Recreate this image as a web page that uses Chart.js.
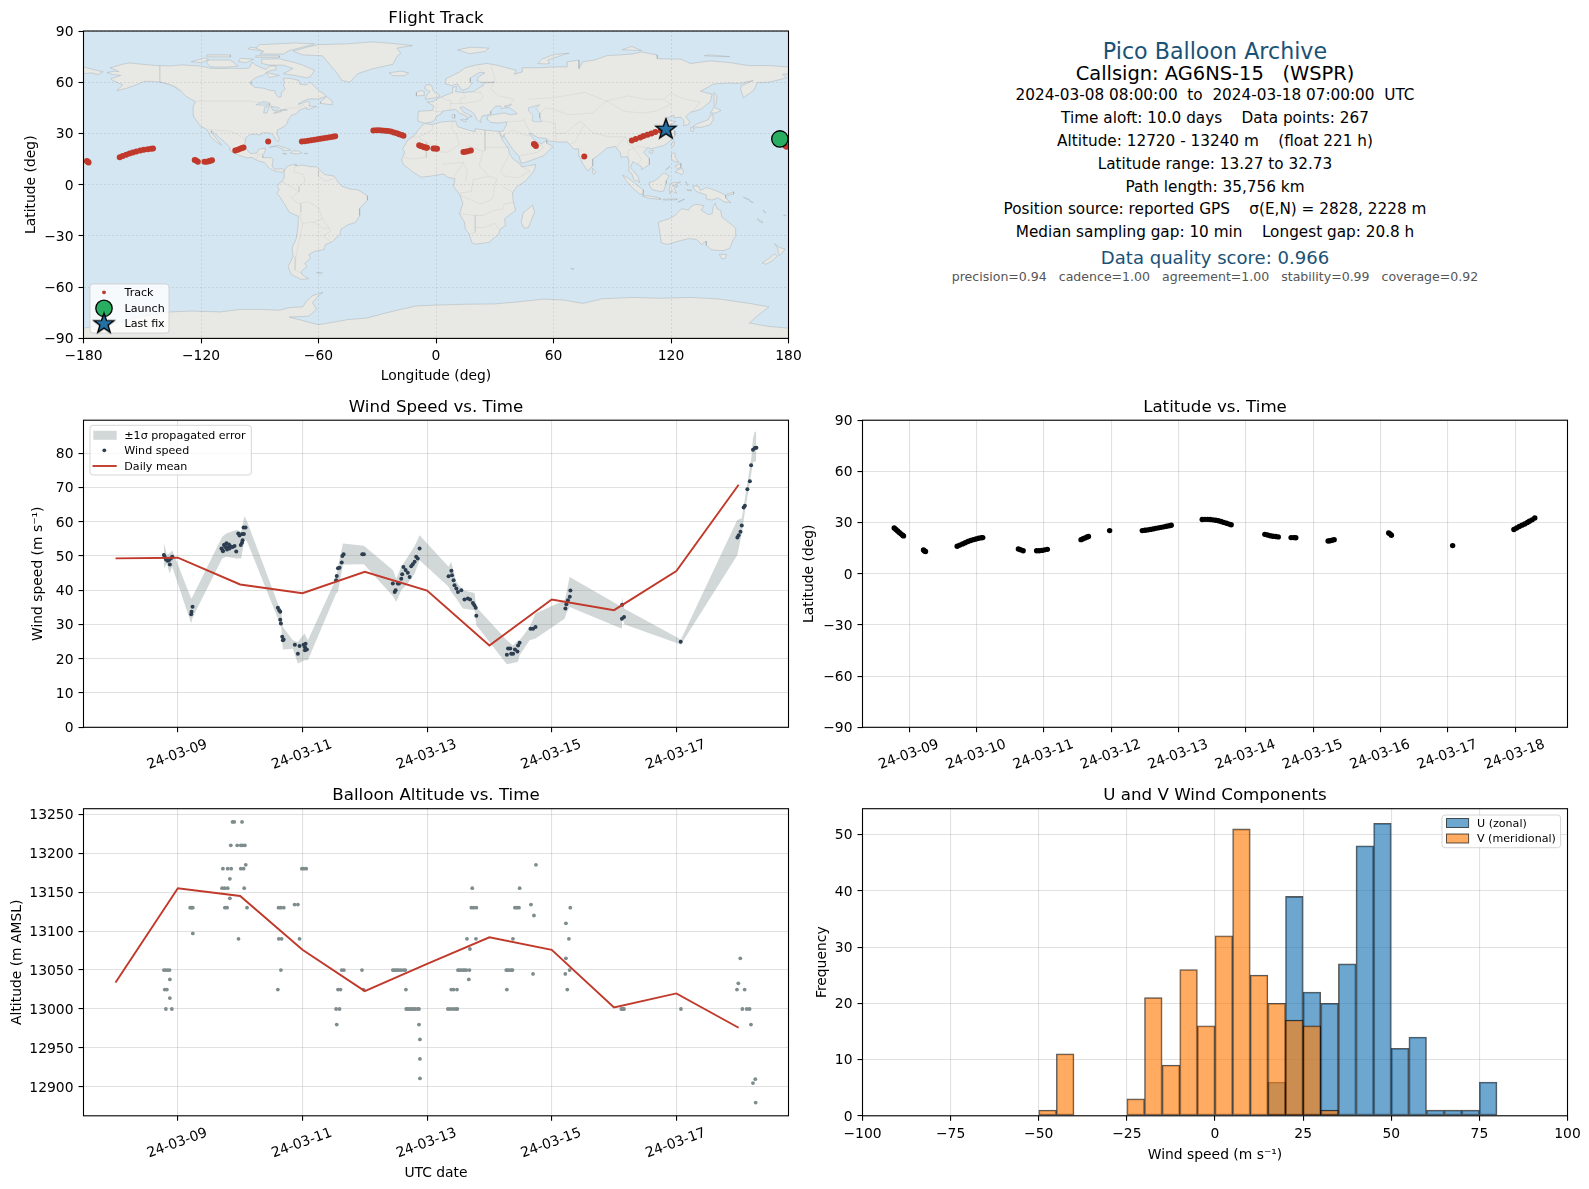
<!DOCTYPE html>
<html><head><meta charset="utf-8">
<script src="https://cdn.jsdelivr.net/npm/chart.js@4"></script>
<style>
html,body{margin:0;padding:0;background:#fff;width:1589px;height:1189px;overflow:hidden;font-family:"DejaVu Sans",sans-serif;}
canvas{position:absolute;}
.t{position:absolute;left:1215px;transform:translate(-50%,-50%);white-space:pre;color:#000;line-height:1.2;}
</style></head><body>
<div id="panel"></div>
<canvas id="cMap" width="810" height="410" style="left:0;top:0"></canvas>
<canvas id="cWind" width="810" height="410" style="left:0;top:389px"></canvas>
<canvas id="cLat" width="810" height="410" style="left:779px;top:389px"></canvas>
<canvas id="cAlt" width="810" height="410" style="left:0;top:777px"></canvas>
<canvas id="cHist" width="810" height="410" style="left:779px;top:777px"></canvas>
<script>
// ---------- DATA ----------
const trackTimes=[8.775,8.80,8.825,8.85,8.875,8.90,8.913,9.21,9.225,9.24,9.71,9.75,9.79,9.83,9.87,9.91,9.95,9.99,10.03,10.07,10.09,10.62,10.65,10.69,10.89,10.93,10.97,11.01,11.05,11.55,11.58,11.61,11.64,11.66,11.975,12.46,12.50,12.54,12.58,12.62,12.66,12.70,12.74,12.78,12.82,12.86,12.89,13.35,13.39,13.43,13.47,13.51,13.55,13.59,13.63,13.67,13.71,13.75,13.78,14.28,14.32,14.36,14.40,14.44,14.48,14.67,14.71,14.74,15.22,15.25,15.28,15.31,16.12,16.14,16.16,17.07,17.98,18.02,18.06,18.10,18.14,18.18,18.21,18.25,18.29];
const trackLats=[26.8,26,25.1,24.2,23.4,22.6,22.2,13.9,13.4,13.0,16.1,16.8,17.5,18.2,18.9,19.5,20,20.4,20.8,21.1,21.2,14.5,14.1,13.5,13.5,13.5,13.7,14,14.3,20,20.5,21,21.5,21.8,25.3,25.3,25.5,25.7,26,26.3,26.6,26.9,27.2,27.5,27.8,28.1,28.4,31.8,31.9,31.9,31.8,31.6,31.4,31.1,30.6,30.1,29.6,29.1,28.7,23.1,22.7,22.3,22,21.8,21.6,21.2,21.2,21.1,19.2,19.3,19.6,20,23.9,23.4,22.6,16.5,25.9,26.8,27.7,28.5,29.2,30,30.8,31.6,32.7];
const trackLons=[175.6,176.2,176.9,177.5,178,178.6,179,-178.3,-177.8,-177.4,-161.5,-160,-158.2,-156.5,-154.8,-153,-151,-149.2,-147.2,-145.5,-144.5,-123.2,-122.5,-121.6,-118.2,-117,-116,-115.2,-114.4,-102.5,-101.2,-100,-99,-98.3,-85.7,-68.5,-67,-65.3,-63.7,-62,-60.5,-59,-57.5,-55.8,-54.2,-52.7,-51.5,-32,-30.5,-29,-27.5,-26,-24.5,-23,-21.5,-20,-18.8,-17.5,-16.6,-8.6,-7.8,-6.9,-6,-5.2,-4.6,-1.3,-0.3,0.5,14,15,16.2,17.8,50,50.5,51,75.7,100,102,104.3,106,108,110,112,114.8,117.4];
const launchLon=175.6, launchLat=26.8, lastLon=117.4, lastLat=32.73;

const windTimes=[8.776,8.79,8.81,8.835,8.856,8.872,8.888,8.91,9.214,9.22,9.236,9.70,9.72,9.74,9.76,9.78,9.80,9.82,9.85,9.88,9.91,9.725,9.755,9.79,9.83,9.937,9.969,9.99,10.03,10.06,10.01,10.03,10.04,10.055,10.087,10.605,10.627,10.643,10.643,10.654,10.675,10.686,10.697,10.878,10.953,10.926,11.017,11.04,11.05,11.04,11.07,11.54,11.55,11.57,11.595,11.63,11.64,11.66,11.96,11.985,12.45,12.48,12.495,12.53,12.55,12.585,12.6,12.62,12.655,12.69,12.72,12.745,12.77,12.8,12.825,12.85,12.88,13.345,13.39,13.40,13.425,13.44,13.47,13.495,13.55,13.60,13.655,13.69,13.735,13.76,13.78,13.79,14.28,14.30,14.335,14.35,14.38,14.41,14.45,14.46,14.485,14.66,14.70,14.74,15.22,15.235,15.26,15.29,15.30,16.127,16.16,16.13,17.07,17.98,18.0,18.03,18.05,18.08,18.10,18.14,18.18,18.20,18.23,18.26,18.285];
const windSpeeds=[50.3,49.7,49,48.6,48.8,47.5,49.3,49.8,33,33.7,35.2,52.2,51.6,53.2,52.6,53.7,52.4,53.4,52.8,52.6,52.9,51.4,53.3,51.9,52.2,51.3,56.6,56,56.4,56.4,53.2,53.9,54.6,58.3,58.3,34.9,34.2,33.7,31.4,30.3,26.4,25.4,25.6,24.1,23.7,21.5,24.1,23.4,24.4,22.5,22.7,42.9,44.2,46.4,46.6,48.1,50,50.5,50.5,50.5,42,39.5,40,42,42,43.4,44.7,46.8,45.9,45.1,43.9,47,47.6,48.3,49.8,49.3,52.2,44.1,45.7,44.4,42.9,41.5,40.5,39.5,40,37.3,37.6,37.3,36.3,35.6,34.9,32.6,21.2,23,23,21.5,21.5,22.7,22.1,23.9,24.7,28.8,28.8,29.3,34.7,35.9,37.1,38.1,39.9,31.7,32.2,35.8,25,55.4,56.1,57.1,58.9,64.2,64.7,69.5,71.8,76.5,81,81.5,81.6];

const bandTimes=[8.776,8.824,8.867,8.91,9.214,9.236,9.712,9.776,9.937,10.017,10.07,10.113,10.616,10.659,10.686,10.846,10.926,11.033,11.087,11.54,11.569,11.65,11.986,12.45,12.505,12.585,12.69,12.80,12.88,13.345,13.388,13.468,13.575,13.762,13.79,14.28,14.378,14.458,14.485,14.645,14.74,15.207,15.234,15.287,16.127,16.133,16.16,17.074,17.978,18.05,18.096,18.203,18.23,18.257,18.284];
const bandUpper=[53.96,50.3,50.75,51.7,37.6,38.1,55.6,56.6,57.6,57.1,61.7,60,35.6,34.2,29.3,25.4,24.9,27.35,25.4,43.4,46.85,53.67,53,45.9,43.4,46.85,49.8,52.9,56.1,46.85,48.3,42.5,40,39.2,35.15,25.4,23.9,25.4,25.4,29.3,33.2,37.1,39,43.9,35.15,38.1,34.7,25.6,60.5,61,66.3,78.5,84.4,86.3,86.3];
const bandLower=[46.36,47.8,44.9,46.85,30.3,32,49.3,49.8,49.3,49.3,55.1,54.2,31.25,29.3,22.7,22.96,18.6,19.55,19.55,39.05,39.5,47.5,47.6,38.3,36.6,40,42,44.9,48.8,41,39.5,37.6,34.7,34.2,29.8,18.4,18.8,19.1,21,25.4,25.9,31.7,33.2,35.15,28.8,33.7,30.1,24.2,50.2,56.6,62.4,74.2,77.3,77.6,77.6];

const dailyTimes=[8,9,10,11,12,13,14,15,16,17,18];
const dailyWind=[49.3,49.5,41.7,39.15,45.4,39.9,23.9,37.3,34.2,45.6,70.8];
const dailyAlt=[13034,13155,13145,13076,13023,13058,13092,13076,13002,13020,12976];

const altTimes=[8.776,8.80,8.835,8.867,8.872,8.79,8.824,8.872,8.808,8.904,9.198,9.22,9.24,9.24,9.723,9.80,9.856,9.835,9.71,9.75,9.80,9.835,9.755,9.79,9.878,9.905,10.03,9.85,9.953,10.01,10.04,10.076,10.01,10.055,10.09,10.065,10.11,9.974,10.616,10.654,10.70,10.62,10.665,10.654,10.605,10.873,10.926,10.953,10.99,11.02,11.06,11.63,11.665,11.57,11.61,11.54,11.595,11.55,11.955,11.98,12.45,12.47,12.50,12.52,12.55,12.58,12.62,12.65,12.66,12.665,12.69,12.72,12.75,12.78,12.81,12.85,12.87,12.87,12.885,12.885,12.885,13.334,13.372,13.415,13.457,13.485,13.388,13.425,13.48,13.495,13.52,13.55,13.58,13.6,13.63,13.68,13.67,13.687,13.64,13.784,13.725,13.71,13.746,13.79,14.28,14.27,14.29,14.32,14.35,14.37,14.378,14.41,14.44,14.474,14.485,14.667,14.715,14.747,14.70,15.218,15.228,15.228,15.25,15.276,15.287,15.298,16.117,16.143,16.16,17.074,17.973,17.995,18.027,18.06,18.096,18.13,18.176,18.198,18.23,18.267,18.273];
const altValues=[13050,13050,13050,13050,13038,13025,13025,13014,13000,13000,13130,13130,13130,13097,13180,13180,13180,13167,13155,13155,13155,13142,13130,13130,13240,13240,13240,13210,13210,13210,13210,13210,13180,13180,13185,13155,13130,13090,13130,13130,13130,13090,13090,13050,13025,13134,13134,13090,13180,13180,13180,13050,13050,13025,13025,13000,13000,12980,13050,13025,13050,13050,13050,13050,13050,13050,13050,13050,13025,13000,13000,13000,13000,13000,13000,13000,13000,12980,12961,12936,12911,13000,13000,13000,13000,13000,13025,13025,13025,13050,13050,13050,13050,13050,13050,13050,13038,13077,13090,13090,13155,13130,13130,13130,13025,13050,13050,13050,13050,13050,13090,13130,13130,13130,13155,13134,13120,13185,13045,13045,13110,13065,13025,13090,13050,13130,13000,13000,13000,13000,13025,13033,13065,13000,13025,13000,13000,12980,12905,12910,12880];

const histCenters=[-97.5,-92.5,-87.5,-82.5,-77.5,-72.5,-67.5,-62.5,-57.5,-52.5,-47.5,-42.5,-37.5,-32.5,-27.5,-22.5,-17.5,-12.5,-7.5,-2.5,2.5,7.5,12.5,17.5,22.5,27.5,32.5,37.5,42.5,47.5,52.5,57.5,62.5,67.5,72.5,77.5,82.5,87.5,92.5,97.5];
const histU=[0,0,0,0,0,0,0,0,0,0,0,0,0,0,0,0,0,0,0,0,0,0,0,6,39,22,20,27,48,52,12,14,1,1,1,6,0,0,0,0];
const histV=[0,0,0,0,0,0,0,0,0,0,1,11,0,0,0,3,21,9,26,16,32,51,25,20,17,16,1,0,0,0,0,0,0,0,0,0,0,0,0,0];

const lonTicks=[-180,-120,-60,0,60,120,180];
const latTicks=[-90,-60,-30,0,30,60,90];
const windTicks=[0,10,20,30,40,50,60,70,80];
const altTicks=[12900,12950,13000,13050,13100,13150,13200,13250];
const histXTicks=[-100,-75,-50,-25,0,25,50,75,100];
const histYTicks=[0,10,20,30,40,50];
const everyOtherDay=[9,11,13,15,17];
const everyDay=[9,10,11,12,13,14,15,16,17,18];
const dayLabels={9:'24-03-09',10:'24-03-10',11:'24-03-11',12:'24-03-12',13:'24-03-13',14:'24-03-14',15:'24-03-15',16:'24-03-16',17:'24-03-17',18:'24-03-18'};

const panelLines=[
 ['Pico Balloon Archive',50.7,22.2,'#1a5276'],
 ['Callsign: AG6NS-15   (WSPR)',74,19.44,'#000'],
 ['2024-03-08 08:00:00  to  2024-03-18 07:00:00  UTC',95,15.28,'#000'],
 ['Time aloft: 10.0 days    Data points: 267',117.6,15.28,'#000'],
 ['Altitude: 12720 - 13240 m    (float 221 h)',140.6,15.28,'#000'],
 ['Latitude range: 13.27 to 32.73',163.6,15.28,'#000'],
 ['Path length: 35,756 km',186.5,15.28,'#000'],
 ['Position source: reported GPS    σ(E,N) = 2828, 2228 m',209.3,15.28,'#000'],
 ['Median sampling gap: 10 min    Longest gap: 20.8 h',232,15.28,'#000'],
 ['Data quality score: 0.966',257.8,18.06,'#1a5276'],
 ['precision=0.94   cadence=1.00   agreement=1.00   stability=0.99   coverage=0.92',277,12.55,'#555'],
];

// coastlines [lon,lat]
const landShapes=[
[[-168,65.7],[-164,66.5],[-162,66.2],[-163.5,67.2],[-166.5,68.4],[-163,69.5],[-160,70.6],[-156.5,71.3],[-150,70.5],[-145,70],[-140,69.7],[-135,69.5],[-130,70.2],[-125,69.8],[-120,69.4],[-115,68.2],[-110,68],[-105,68.2],[-100,68],[-96,68.2],[-95,69],[-94,71.8],[-92,70],[-90,69],[-87,67.5],[-85,69.5],[-82,69.5],[-81.5,67.5],[-86,66.3],[-88,64.2],[-92,62.8],[-94.5,60.5],[-94.5,58.8],[-92.5,57],[-88,56.5],[-85,55.3],[-82.3,55.1],[-82,53],[-80.5,51.3],[-79,51.5],[-79,54],[-77,56],[-78,58.5],[-77.5,60],[-78,62.4],[-74,62.2],[-70,61],[-69.5,58.8],[-66,58.5],[-64.5,60.3],[-62,57.5],[-60,55.3],[-57,53],[-56,51.8],[-60,50.2],[-65,50.2],[-68,49],[-70.5,47],[-65,49],[-64.5,47.5],[-65,46],[-61,45.8],[-64,44.5],[-66,44],[-66,45.2],[-70,43.6],[-70.7,42],[-74,40.5],[-75.5,38],[-76,36],[-77.5,34],[-81,32],[-81.3,30],[-80,26.8],[-80.4,25.2],[-81.7,26],[-82.8,28.5],[-84,30],[-86,30.4],[-89,30.3],[-89.5,29.2],[-92,29.6],[-94.5,29.5],[-97,27.8],[-97.5,25],[-97.8,22.5],[-96,19.5],[-94.5,18.2],[-91.5,18.6],[-90.5,20.8],[-87,21.5],[-87.5,19],[-88.5,17],[-88.5,15.9],[-84,15.8],[-83.2,15],[-83.7,11],[-82.5,9.2],[-80,9.2],[-79,9.5],[-77.4,8.7],[-77.9,7.3],[-80,7.5],[-81.5,7.8],[-83,8.3],[-85.5,10],[-87.5,13],[-91,14],[-94,16],[-96.5,15.7],[-100,17],[-104,19],[-105.5,20.5],[-105.3,22],[-108,25],[-110,27],[-112.5,29.5],[-114.7,31.6],[-114.7,30.5],[-112.5,27.5],[-110,24],[-109.5,23],[-112,25],[-115,28],[-116,30.5],[-117.2,32.5],[-120.5,34.5],[-122,37],[-124,40.2],[-124,46],[-122.8,48.5],[-125,50],[-128,52],[-130,54.5],[-133,57],[-136,58.5],[-140,60],[-145,60.5],[-149,60.5],[-152,59],[-154,58],[-158,56.5],[-163,55],[-160,58.5],[-162,59.5],[-165,61],[-166,62],[-161,64],[-165,64.5]],
[[-80,73.7],[-72,71.5],[-68,70],[-62,67],[-64,63.5],[-66,62.5],[-72,64],[-78,65],[-73,68],[-78,70],[-85,70],[-89,71],[-89,73.5]],
[[-117,73],[-105,73],[-101,69.5],[-107,68.8],[-115,69],[-117,71]],
[[-125,72],[-118,74.3],[-116,73.2],[-120,71.5]],
[[-90,76.5],[-78,76.5],[-75,78.5],[-65,81.5],[-62,82.5],[-72,83],[-90,82],[-92,80],[-88,78]],
[[-92,75.5],[-80,75.5],[-80,74.6],[-92,74.6]],
[[-117,76],[-105,76],[-105,74.8],[-117,74.9]],
[[-100,74],[-93,73.5],[-97,71.5],[-101,72]],
[[-87,65.8],[-80,64],[-85,62.8]],
[[-59,47.7],[-53,46.7],[-53,49],[-56,51.5],[-59,48.5]],
[[-95,80.5],[-87,79.5],[-88,78.2],[-96,79.5]],
[[-73,78.2],[-68,76],[-58,75.5],[-54,70],[-51,66],[-48,61],[-44,60],[-40,65],[-32,68],[-22,70.5],[-20,75],[-18,77],[-20,80],[-12,81.5],[-25,83],[-33,83.6],[-45,82.5],[-60,82],[-66,80.5]],
[[-24,65.5],[-18,66.5],[-14,65.5],[-16,63.8],[-22,63.8]],
[[-77.5,8.5],[-75.5,11],[-72,12],[-71.5,11],[-68,11.5],[-64,10.5],[-61,10.5],[-57,6],[-52,5],[-50,1.5],[-48,-1],[-44,-2.5],[-40,-3],[-37,-5],[-35,-6.5],[-35,-9],[-39,-14],[-39,-18],[-41,-22],[-45,-23.5],[-48.5,-26],[-49,-29],[-53,-33.5],[-56.5,-35],[-57,-38],[-62,-39],[-65,-41],[-64,-43],[-67,-46],[-66,-48],[-69,-51],[-68,-53],[-65,-55],[-69,-55.5],[-74,-52.5],[-75.5,-48],[-73,-42],[-73.5,-37],[-71.5,-32],[-70.5,-25],[-70.3,-18.5],[-75,-16],[-77,-12],[-79.5,-7.5],[-81.3,-5],[-80,-3],[-81,-1],[-80,1],[-78.5,2],[-77.5,4],[-77.5,7]],
[[-6,35.8],[-2,35.2],[3,36.8],[10,37.3],[11,34],[15,32.5],[20,31],[20,32.8],[25,32],[32,31.2],[32.5,29.8],[34,26],[37,21],[37.5,18],[39.5,15],[43,12],[44,10.5],[51,11.8],[50,8],[46,2.5],[41,-1.5],[39,-5],[39.5,-10],[40.7,-15],[35,-20],[35.5,-24],[32.8,-26],[32,-29],[27,-33.8],[20,-34.8],[18.3,-34],[17,-29],[15,-26],[14.5,-22],[12,-17],[13.7,-11],[12.3,-6],[9,-1],[9.7,3.5],[6,4.3],[4,6.3],[-3,5],[-7.7,4.4],[-13,8.5],[-16.8,12],[-17.5,14.7],[-16,19],[-17,21],[-14.5,26],[-11,29],[-9.5,31.5]],
[[49.3,-12],[50.4,-16],[47.2,-25],[45,-25.5],[43.5,-22],[44.5,-16.5]],
[[-9,37],[-9.3,38.7],[-9,43],[-2,43.5],[-1,46],[-4.5,48.4],[-1.5,48.7],[1.5,50.8],[4,52],[8.5,54],[8.5,57],[10.5,57.5],[10,54.5],[14,54],[19,54.5],[21,56],[24,58],[24,59.5],[30,60],[23,60],[21,61],[21.5,63],[25,65.5],[22,65.7],[17.5,62.5],[17.5,60],[18.5,59.5],[16.5,56.5],[14,55.5],[13,55.5],[11,59],[8,58],[5,59],[5,62],[12,66],[15,68.5],[20,70],[26,71],[31,70],[41,67],[40,64.7],[44,66],[44,68.5],[54,68.5],[60,69],[67,69],[67,72],[73,73],[73,68],[75,72],[81,73],[87,75.5],[100,76.5],[105,77.7],[113,76],[113,73.8],[125,73.5],[130,71],[140,72.5],[150,71.5],[160,69.7],[170,69.8],[180,68.9],[180,65],[177,64.7],[179,62.5],[170,60],[164,59.8],[163,57],[162,55],[157,51],[155.5,56],[156,58],[162,61],[155,59.3],[150,59.5],[142,59],[135,54.7],[141,53],[140,48.5],[135,44],[132,43],[130,42.5],[127.5,39.8],[129.5,37],[129,35.2],[126.5,34.5],[126.5,37.7],[125,39.6],[121.5,39],[121.5,40.7],[118,39],[119.5,37.5],[122.5,37],[119.5,35],[121.8,31.5],[122,29],[119.5,25.5],[116.5,23],[113,22],[110,21],[108,21.7],[106,19],[108.8,15.5],[109,11.8],[105,8.8],[105,10.5],[102,12.5],[100.5,13.5],[99.3,10],[103,5],[104,1.4],[101,3],[100,6.5],[98.3,8],[98.5,14],[97.5,16.5],[94.5,16],[94,19],[91.5,22.5],[89,21.8],[87,21.3],[82.5,16.8],[80,15],[80,11],[77.6,8],[75,12],[73,17],[72.8,21],[70.5,20.8],[69,22.5],[67,25],[62,25],[57,25.7],[56.5,27],[52,27.5],[48.5,30],[48,29.5],[50,26.5],[51.5,25],[54,24],[56.3,26],[56.5,24.3],[59.8,22.5],[55,17],[52,15.7],[45,12.8],[43.3,12.8],[42.5,16.5],[39,21],[35,28],[34.8,29.5],[34.2,27.8],[32.6,29.9],[32.3,31.2],[34.3,31.4],[35.9,35],[36,36.8],[32,36.1],[28,36.5],[26.5,38],[26.2,40],[29,41],[35,42],[38,41],[41.5,41.5],[39,44],[37,45.2],[38.5,47],[35,46],[36.5,45.3],[33.5,44.5],[33,46],[30.5,46],[28,43],[28,41.5],[26,40.8],[23.5,40.2],[22.8,38],[23,36.5],[21,38],[19.5,41.5],[18.5,42.5],[13.7,45.7],[12.3,45],[14,42.5],[18.5,40],[16.5,39.5],[16,38],[15.7,40],[12,42],[10,44],[7,43.7],[3.2,43],[3,41.8],[0,39.8],[-0.5,38],[-2,36.8],[-5.5,36]],
[[-5.5,50],[1.5,51.3],[1.7,52.7],[0,53.5],[-1.5,55],[-2,57.5],[-3,58.6],[-5,58.5],[-6,56.5],[-3,54.5],[-4.5,53],[-5,51.7]],
[[-10,52],[-6,52.2],[-6,54.5],[-8,55.2],[-10,54]],
[[12.5,38],[15.5,38.2],[15,36.7]],
[[8.3,41],[9.7,41],[9.5,39],[8.5,39]],
[[11,79],[17,76.7],[25,78],[27,80],[18,80.5]],
[[52,71],[56,70.7],[58,71],[57,73],[66,76.5],[68,77],[60,76.2],[54,73.5]],
[[95,79],[105,78.5],[100,81]],
[[142,54],[143.5,52],[143,47],[142,46],[142,50]],
[[137,75.5],[145,75],[150,75],[140,76]],
[[-180,68.9],[-175,67.5],[-170,66.1],[-172.5,64.5],[-176,65.5],[-180,65]],
[[131,34],[135,33.5],[140,35],[141.5,38],[141.4,41.3],[140,40.5],[139,38],[136.5,37],[133,35.5]],
[[140,42],[143,42],[145.5,43.5],[142,45.5],[141,43.5]],
[[130,33.5],[132,33],[131,31],[130,31.5]],
[[120,23],[121,22],[122,25],[121,25.2]],
[[108.7,19.2],[110.5,18.3],[111,20],[109.5,20]],
[[80,9.6],[81.8,7.5],[80.5,6],[79.8,8]],
[[120.3,18.5],[122.2,18.4],[122,16],[124,13],[121,13.8],[120,16]],
[[122,7.5],[125.5,9.8],[126.5,7.5],[125.5,5.8],[124,6.8]],
[[122,11],[125,12.5],[125,10],[123,9.5]],
[[117.2,8.5],[119.5,11],[119,10]],
[[95.3,5.6],[98,4],[103.5,-1],[106,-3],[105.8,-5.8],[104,-5.5],[100.5,-2],[97,2.5]],
[[105.3,-6.5],[108.5,-6.5],[114.5,-7.8],[114.5,-8.7],[108,-7.8]],
[[116,-8.5],[123,-8.3],[123,-8.8],[116,-9]],
[[123.5,-10.2],[127,-8.4],[125,-9.5]],
[[109,1.5],[111,1.8],[113,3.5],[116.5,7],[119,5.2],[117.8,2.5],[117.5,0.5],[116.2,-3.8],[114.5,-4],[110.2,-2.8],[109,0]],
[[119.5,-5.5],[120.3,-2.8],[121.5,-4.5],[123,-5],[121.5,-2],[123.5,-0.8],[120.5,-0.8],[125,1.5],[120,1],[119,-3]],
[[127.5,2],[128.5,-0.5],[128,0.5]],
[[128,-3],[130.7,-3.2],[129,-3.5]],
[[131,-0.8],[134,-0.8],[135,-3.3],[138,-1.7],[141,-2.6],[145,-4.5],[147.7,-6],[148,-8],[150.7,-10.5],[147,-10],[144,-7.7],[141,-9],[138,-8.3],[138,-6],[133,-4],[132,-2.8]],
[[148.5,-5.6],[152,-4.2],[152,-5.5],[149,-6.3]],
[[157,-7.3],[160,-8.8],[159,-8.7]],
[[160,-9.3],[162,-10.4],[161,-10.2]],
[[167,-15],[167.5,-16],[168.5,-16.5],[167.5,-15.2]],
[[164,-20],[167,-22],[166,-22.2]],
[[177.5,-18],[178.7,-17.8],[178,-18.3]],
[[113.5,-22],[114,-26],[115,-34],[118,-35],[124,-33],[129,-31.6],[133,-32],[135.5,-35],[138,-33],[138,-35.5],[140.5,-38],[144,-38.5],[147,-38.5],[150,-37.3],[151.5,-33],[153,-30],[153,-25.5],[149.5,-22],[146,-19],[145.3,-15],[143.5,-14],[142.5,-10.8],[141.5,-13],[141,-17],[139,-17.5],[135.5,-15],[136.8,-12.2],[132.5,-11.5],[130,-13],[129,-15],[125.5,-14],[122,-18],[119,-20],[116,-21]],
[[144.7,-40.8],[148.3,-40.8],[147.8,-43.2],[146,-43.5]],
[[172.7,-34.5],[175.5,-36.8],[178.3,-37.7],[177,-39.5],[175.3,-41.6],[174.8,-39.8],[174.5,-37]],
[[172.7,-40.5],[174.2,-41.7],[172.7,-43.6],[171,-45],[168.5,-46.6],[166.5,-45.8],[170.5,-42.8]],
[[-85,21.9],[-80.5,23],[-75,20.8],[-74.2,20.2],[-77.7,19.9],[-78,20.8],[-82,22.5]],
[[-74.4,18.5],[-72.8,19.9],[-69.9,19.7],[-68.4,18.6],[-71,18]],
[[-78.3,18.3],[-76.3,18.2],[-77,17.8]],
[[-67.2,18.4],[-65.6,18.3],[-66.5,18]],
[[-61,-51.5],[-58,-51.3],[-59,-52.3]],
[[68.8,-49],[70.5,-49.2],[69.5,-49.7]],
[[-180,-90],[-180,-84],[-160,-80],[-150,-77],[-136,-74.5],[-125,-74],[-110,-74.5],[-100,-73],[-90,-73],[-80,-73.5],[-75,-72],[-68,-71.5],[-66,-68],[-63,-65],[-57.7,-63],[-60,-65],[-63,-69],[-61,-73],[-65,-77],[-75,-77.5],[-60,-82],[-45,-79],[-35,-78],[-27,-75.5],[-18,-73],[-10,-71],[0,-70.5],[15,-70],[30,-69.8],[40,-68.8],[55,-67],[65,-67.5],[75,-69.5],[85,-66.8],[100,-66],[115,-66.5],[130,-66],[145,-67],[160,-69.5],[170,-71.5],[165,-76],[163,-78],[160,-81],[170,-83],[180,-84],[180,-90]]
];
const lakeShapes=[
[[47,45],[53,46.8],[51,44.5],[53,42],[53,39],[54,37],[51,36.8],[49,37.5],[49.5,40.5],[47.5,43]],
[[-92,46.8],[-88,48.8],[-85,47.8],[-85,46.6],[-88,46.5]],
[[-88,42],[-87.5,45.5],[-85,45.8],[-86.3,42]],
[[-84.5,46],[-80,45],[-81.7,43.2],[-83.5,43.8]],
[[-83,41.7],[-79,42.8],[-79.5,43.5],[-76,43.5],[-76.5,44.2],[-79.5,43.9],[-81,42.8]]
];
const borderLines=[
[[-123,49],[-95,49],[-89,48],[-84,46.5],[-82.5,43],[-79,43],[-75,45],[-71,45],[-67.5,47],[-67,45]],
[[-141,69.7],[-141,60],[-135,58.5],[-130,55]],
[[-117,32.5],[-108,31.5],[-106,31.7],[-101,29.5],[-97.2,26]],
[[-92,14.5],[-91,17.5],[-89,17.8],[-88.3,18.5]],
[[-72,11.5],[-72.5,7.5],[-67.5,6],[-67,1.5],[-70,-1],[-70,-4.2],[-75,-0.5],[-78.5,1.5]],
[[-70,-4.2],[-74,-7.5],[-70.5,-11],[-65,-10],[-60,-13.5],[-58,-20],[-54.5,-25.5],[-53.7,-27],[-57.5,-30],[-53.5,-33.5]],
[[-60,8.5],[-60,5],[-56.5,2],[-52,3.5]],
[[-69.5,-18],[-68,-23],[-70,-33],[-71.5,-42],[-72,-50],[-68.5,-52]],
[[-69,-11],[-69,-16],[-69.5,-18]],
[[-58,-20],[-62.5,-22],[-65,-22],[-68,-23]],
[[-62.5,-22],[-57.5,-25.5],[-54.5,-25.5]],
[[-1.5,35],[-2,32],[-8.7,28],[-13,27.7]],
[[-8.7,27.3],[-5,25],[-5,16],[-12,15],[-16.5,16]],
[[-5,25],[3,19],[6,19],[12,23.5],[10,30],[8,33],[8.5,37]],
[[25,32],[25,20],[24,19.5],[16,23]],
[[24,19.5],[22,11],[27,5],[31,3.5]],
[[25,22],[37,22]],
[[3,12],[14,13],[16,8],[15,2]],
[[9,4.5],[14,13]],
[[37,17],[33,8],[35,5],[42,4],[48,8],[43,11]],
[[34,-1],[39.5,-4.7]],
[[31,3.5],[30,-1],[29,-8],[24,-11],[22,-11],[12,-6]],
[[12,-5],[18,-4],[19,3],[27,5]],
[[40,-10.5],[35,-11],[34,-14],[30,-15],[24,-18],[20,-18],[12,-17]],
[[20,-18],[20,-28],[17,-29]],
[[20,-25],[25,-25],[30,-22.5],[32,-26]],
[[-2,43.4],[3.2,42.5]],
[[2.5,51],[6,49.5],[8,49],[7.5,47.5],[7,44]],
[[14,54],[15,51],[12,50],[13,47.5],[7.5,47.5]],
[[19,54.3],[23,54],[24,51],[22,49],[17,48],[13,47.5]],
[[28,69.7],[30,62],[28,56],[32,52],[40,50],[38,47]],
[[24,66],[21,69]],
[[47,50],[60,51],[76,54],[87,49]],
[[53,42],[56,45],[60,44],[68,41],[80,42],[87,49]],
[[87,49],[98,52],[107,50],[116,50],[120,47],[112,43],[105,42],[96,43],[87,49]],
[[116,50],[120,53.5],[127,50],[135,48.5],[131,43]],
[[74,37],[80,30.5],[88,28],[97,28]],
[[48.5,30],[46,35],[44.5,39]],
[[61.5,25],[61,30],[61,36],[54,37.5]],
[[61,30],[66,30],[71,35],[74,37]],
[[68.5,23.8],[71,25],[74,32],[76,35]],
[[92,21],[94,25],[97,28]],
[[98.5,14],[98,20],[101,21.5],[105,15],[103,12]],
[[102,22.5],[108,21.7]],
[[97,28],[98,24],[101,21.5]],
[[35,29.3],[39,32],[46,29],[48,28.5]],
[[43,17],[52,19],[55,22],[52,24]],
[[36,36.8],[42,37.2],[44.5,37.5]]
];

// ---------- STYLE / HELPERS ----------
const RED='#c0392b', BAND='rgba(127,140,141,0.35)', NAVY='#2c3e50', GREY='#7f8c8d';
const OCEAN='#d4e6f1', LAND='#e8e8e4', COAST='rgba(150,160,165,0.4)', BORDER='rgba(150,150,150,0.13)';
Chart.defaults.font.family='"DejaVu Sans"';
Chart.defaults.font.size=13.89;
Chart.defaults.color='#000';
Chart.defaults.animation=false;
Chart.defaults.devicePixelRatio=1;

const pts=a=>a.map(p=>({x:p[0],y:p[1]}));
const zip=(xs,ys)=>xs.map((x,i)=>({x,y:ys[i]}));
const minus=v=>String(v).replace('-','\u2212');

const panel=document.getElementById('panel');
panelLines.forEach(([s,y,size,col])=>{
  const d=document.createElement('div');d.className='t';d.textContent=s;
  d.style.top=y+'px';d.style.fontSize=size+'px';d.style.color=col;panel.appendChild(d);
});

function starIcon(){
  const c=document.createElement('canvas');c.width=24;c.height=24;
  const x=c.getContext('2d');const R=10.6,r=4.3,cx=12,cy=12.6;
  x.beginPath();
  for(let i=0;i<10;i++){const a=-Math.PI/2+i*Math.PI/5,q=i%2?r:R;
    x[i?'lineTo':'moveTo'](cx+q*Math.cos(a),cy+q*Math.sin(a));}
  x.closePath();x.fillStyle='#2471a3';x.fill();x.lineWidth=1.4;x.strokeStyle='#000';x.lineJoin='miter';x.stroke();
  return c;
}
const STAR=starIcon();

const framePlugin={id:'frame',afterDraw(ch){const a=ch.chartArea,c=ch.ctx;c.save();c.strokeStyle='#000';c.lineWidth=1.1;
  c.strokeRect(a.left,a.top,a.right-a.left,a.bottom-a.top);c.restore();}};
const oceanPlugin={id:'ocean',beforeDatasetsDraw(ch){const a=ch.chartArea,c=ch.ctx;c.save();c.fillStyle=OCEAN;
  c.fillRect(a.left,a.top,a.right-a.left,a.bottom-a.top);c.restore();}};

function legendPlugin(box,items,textX,fs){return {id:'mplLegend',afterDraw(ch){
  const c=ch.ctx;c.save();
  c.beginPath();c.roundRect(box[0],box[1],box[2]-box[0],box[3]-box[1],3);
  c.fillStyle='rgba(255,255,255,0.8)';c.fill();c.strokeStyle='rgba(204,204,204,0.8)';c.lineWidth=1;c.stroke();
  c.textBaseline='middle';c.textAlign='left';c.font=fs+'px "DejaVu Sans"';
  items.forEach(it=>{
    const y=it.y;
    if(it.kind==='patch'){c.fillStyle=it.fill;c.fillRect(it.x0,y-4.5,it.x1-it.x0,9);
      if(it.edge){c.strokeStyle=it.edge;c.lineWidth=1;c.strokeRect(it.x0,y-4.5,it.x1-it.x0,9);}}
    if(it.kind==='dot'){c.fillStyle=it.fill;c.beginPath();c.arc(it.x,y,it.r,0,7);c.fill();}
    if(it.kind==='circle'){c.fillStyle=it.fill;c.beginPath();c.arc(it.x,y,it.r,0,7);c.fill();c.strokeStyle='#000';c.lineWidth=1.3;c.stroke();}
    if(it.kind==='line'){c.strokeStyle=it.color;c.lineWidth=1.9;c.beginPath();c.moveTo(it.x0,y);c.lineTo(it.x1,y);c.stroke();}
    if(it.kind==='image'){c.drawImage(it.img,it.x-it.img.width/2,y-it.img.height/2);}
    c.fillStyle='#000';c.fillText(it.label,textX,y+1);
  });
  c.restore();
}};}

const GRID='rgba(176,176,176,0.38)';
function yScale(min,max,ticks,label,titleX,fmt,gridExtra){
  return {type:'linear',min,max,position:'left',
    afterBuildTicks:s=>{s.ticks=ticks.map(v=>({value:v}));},
    afterFit:s=>{s.width=83.5;},
    border:{display:false,...((gridExtra||{}).border||{})},
    grid:{color:GRID,lineWidth:1.1,tickColor:'#000',tickLength:5,tickWidth:1.1,...((gridExtra||{}).grid||{})},
    ticks:{padding:5,autoSkip:false,maxRotation:0,color:'#000',labelOffset:1.3,callback:fmt||(v=>minus(v))},
    title:{display:true,text:label,color:'#000',padding:{top:titleX-7.5,bottom:0}}};
}
function xScale(min,max,ticks,fmt,h,opts){
  opts=opts||{};
  return {type:'linear',min,max,position:'bottom',offset:false,
    afterBuildTicks:s=>{s.ticks=ticks.map(v=>({value:v}));},
    afterFit:s=>{s.height=h;},
    border:{display:false,...((opts.gridExtra||{}).border||{})},
    grid:{color:GRID,lineWidth:1.1,tickColor:'#000',tickLength:5,tickWidth:1.1,offset:false,...((opts.gridExtra||{}).grid||{})},
    ticks:{padding:opts.rot?4:5,autoSkip:false,color:'#000',callback:fmt,
      minRotation:opts.rot||0,maxRotation:opts.rot||0,labelOffset:opts.labelOffset||0},
    title:opts.title?{display:true,text:opts.title,color:'#000',padding:{top:0,bottom:opts.titleBottom}}:{display:false}};
}
function titleOpt(text,h){return {display:true,text,color:'#000',fullSize:false,
  font:{size:16.67,weight:'normal',lineHeight:1.2},padding:{top:h-22.7,bottom:2.7}};}
function baseOptions(title,titleH,scales){return {responsive:false,animation:false,
  layout:{padding:{left:0,top:0,right:21.5,bottom:0}},
  plugins:{legend:{display:false},tooltip:{enabled:false},title:titleOpt(title,titleH)},
  elements:{point:{borderWidth:0,hitRadius:0,hoverRadius:0}},scales};}

const dayFmt=v=>dayLabels[v];

// ---------- MAP ----------
const mapGrid={grid:{color:'rgba(120,120,120,0.22)',lineWidth:0.8,z:1},border:{dash:[2,2]}};
const mapDatasets=[
 {label:'Last fix',data:[{x:lastLon,y:lastLat}],pointStyle:STAR,pointRadius:12,clip:false},
 {label:'Launch',data:[{x:launchLon,y:launchLat}],pointRadius:8.2,backgroundColor:'#27ae60',borderColor:'#000',pointBorderColor:'#000',pointBorderWidth:1.3,borderWidth:1.3,clip:false},
 {label:'Track',data:zip(trackLons,trackLats),pointRadius:3,backgroundColor:RED},
];
borderLines.forEach(b=>mapDatasets.push({data:pts(b),showLine:true,pointRadius:0,borderColor:BORDER,borderWidth:1,fill:false}));
lakeShapes.forEach(s=>mapDatasets.push({data:pts(s.concat([s[0]])),showLine:true,pointRadius:0,borderColor:COAST,borderWidth:0.8,backgroundColor:OCEAN,fill:'shape'}));
landShapes.forEach(s=>mapDatasets.push({data:pts(s.concat([s[0]])),showLine:true,pointRadius:0,borderColor:COAST,borderWidth:0.9,backgroundColor:LAND,fill:'shape'}));
new Chart(document.getElementById('cMap'),{type:'scatter',data:{datasets:mapDatasets},
 options:baseOptions('Flight Track',31,{
  x:xScale(-180,180,lonTicks,v=>minus(v),71.6,{title:'Longitude (deg)',titleBottom:25.2,gridExtra:mapGrid}),
  y:yScale(-90,90,latTicks,'Latitude (deg)',30.4,null,mapGrid)}),
 plugins:[oceanPlugin,framePlugin,legendPlugin([90,284,169,333],[
  {kind:'dot',x:104,y:292.3,r:1.9,fill:RED,label:'Track'},
  {kind:'circle',x:104,y:308.3,r:8.2,fill:'#27ae60',label:'Launch'},
  {kind:'image',x:104,y:323.3,img:STAR,label:'Last fix'}],124.5,11.1)]});

// ---------- WIND ----------
new Chart(document.getElementById('cWind'),{type:'scatter',data:{datasets:[
 {label:'Daily mean',data:zip(dailyTimes,dailyWind),showLine:true,pointRadius:0,borderColor:RED,borderWidth:1.9,fill:false},
 {label:'Wind speed',data:zip(windTimes,windSpeeds),pointRadius:2,backgroundColor:NAVY},
 {label:'\u00b11\u03c3 propagated error',data:zip(bandTimes,bandUpper),showLine:true,pointRadius:0,borderWidth:0,borderColor:'transparent',backgroundColor:BAND,fill:'+1'},
 {data:zip(bandTimes,bandLower),showLine:true,pointRadius:0,borderWidth:0,borderColor:'transparent',fill:false},
]},options:baseOptions('Wind Speed vs. Time',31.2,{
  x:xScale(7.486,18.80,everyOtherDay,dayFmt,71.7,{rot:20,labelOffset:29}),
  y:yScale(0,89.65,windTicks,'Wind speed (m s\u207b\u00b9)',37.5)}),
 plugins:[framePlugin,legendPlugin([90,36.3,251.3,86],[
  {kind:'patch',x0:93.3,x1:116.7,y:46.3,fill:BAND,label:'\u00b11\u03c3 propagated error'},
  {kind:'dot',x:104.3,y:61.3,r:1.9,fill:NAVY,label:'Wind speed'},
  {kind:'line',x0:92.5,x1:116.7,y:77,color:RED,label:'Daily mean'}],124.3,11.1)]});

// ---------- LATITUDE ----------
new Chart(document.getElementById('cLat'),{type:'scatter',data:{datasets:[
 {label:'Latitude',data:zip(trackTimes,trackLats),pointRadius:2.7,backgroundColor:'#000'},
]},options:baseOptions('Latitude vs. Time',31.2,{
  x:xScale(8.304,18.776,everyDay,dayFmt,71.7,{rot:20,labelOffset:29}),
  y:yScale(-90,90,latTicks,'Latitude (deg)',30,null)}),
 plugins:[framePlugin]});

// ---------- ALTITUDE ----------
new Chart(document.getElementById('cAlt'),{type:'scatter',data:{datasets:[
 {label:'Daily mean',data:zip(dailyTimes,dailyAlt),showLine:true,pointRadius:0,borderColor:RED,borderWidth:1.9,fill:false},
 {label:'Altitude',data:zip(altTimes,altValues),pointRadius:1.9,backgroundColor:GREY},
]},options:baseOptions('Balloon Altitude vs. Time',31.7,{
  x:xScale(7.486,18.80,everyOtherDay,dayFmt,71.2,{rot:20,labelOffset:29,title:'UTC date',titleBottom:5.7}),
  y:yScale(12863,13257,altTicks,'Altitude (m AMSL)',16.2)}),
 plugins:[framePlugin]});

// ---------- HISTOGRAM ----------
new Chart(document.getElementById('cHist'),{type:'bar',data:{datasets:[
 {label:'V (meridional)',data:zip(histCenters,histV),backgroundColor:'rgba(255,127,14,0.65)',borderColor:'rgba(0,0,0,0.65)',borderWidth:1.1,borderSkipped:false,grouped:false,barPercentage:1,categoryPercentage:1},
 {label:'U (zonal)',data:zip(histCenters,histU),backgroundColor:'rgba(31,119,180,0.65)',borderColor:'rgba(0,0,0,0.65)',borderWidth:1.1,borderSkipped:false,grouped:false,barPercentage:1,categoryPercentage:1},
]},options:baseOptions('U and V Wind Components',31.7,{
  x:xScale(-100,100,histXTicks,v=>minus(v),71.2,{title:'Wind speed (m s\u207b\u00b9)',titleBottom:23.2}),
  y:yScale(0,54.6,histYTicks,'Frequency',43)}),
 plugins:[framePlugin,legendPlugin([663,38,781.6,70.7],[
  {kind:'patch',x0:667.5,x1:689.6,y:46,fill:'rgba(31,119,180,0.65)',edge:'rgba(0,0,0,0.65)',label:'U (zonal)'},
  {kind:'patch',x0:667.5,x1:689.6,y:61.5,fill:'rgba(255,127,14,0.65)',edge:'rgba(0,0,0,0.65)',label:'V (meridional)'}],698,11.1)]});
</script>
</body></html>
